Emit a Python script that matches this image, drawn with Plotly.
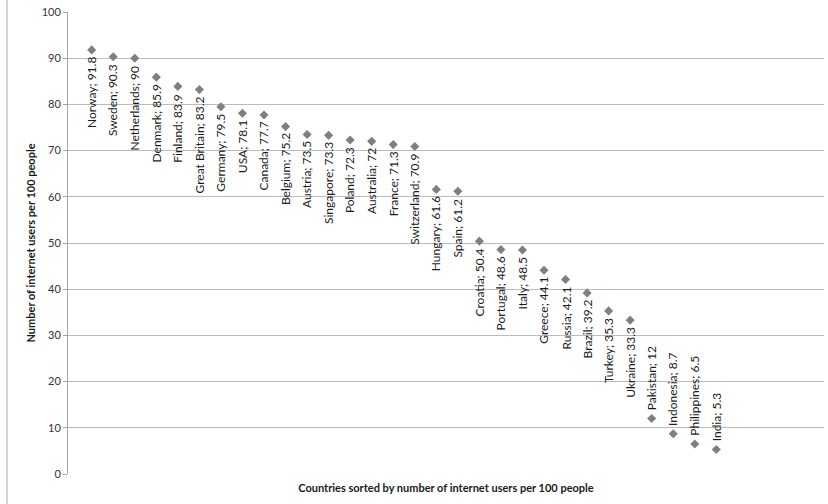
import plotly.graph_objects as go

countries = ["Norway", "Sweden", "Netherlands", "Denmark", "Finland", "Great Britain",
             "Germany", "USA", "Canada", "Belgium", "Austria", "Singapore", "Poland",
             "Australia", "France", "Switzerland", "Hungary", "Spain", "Croatia",
             "Portugal", "Italy", "Greece", "Russia", "Brazil", "Turkey", "Ukraine",
             "Pakistan", "Indonesia", "Philippines", "India"]
users_per_100 = [91.8, 90.3, 90, 85.9, 83.9, 83.2, 79.5, 78.1, 77.7, 75.2, 73.5, 73.3,
                 72.3, 72, 71.3, 70.9, 61.6, 61.2, 50.4, 48.6, 48.5, 44.1, 42.1, 39.2,
                 35.3, 33.3, 12, 8.7, 6.5, 5.3]
rank = list(range(1, len(countries) + 1))
label_side = ["below"] * 26 + ["above"] * 4

FONT = "Lato, 'Open Sans', sans-serif"

fig = go.Figure()
fig.add_trace(go.Scatter(
    x=rank, y=users_per_100, mode="markers",
    marker=dict(symbol="diamond", size=7, color="#7F7F7F", line=dict(width=0)),
    hoverinfo="skip", showlegend=False,
))

for xv, yv, name, side in zip(rank, users_per_100, countries, label_side):
    fmt = f"{yv:g}"
    fig.add_annotation(
        x=xv, y=yv, text=f"{name}; {fmt}", showarrow=False, textangle=-90,
        xanchor="center", yanchor="top" if side == "below" else "bottom",
        yshift=-5 if side == "below" else 6,
        font=dict(family=FONT, size=12, color="#1a1a1a"),
    )

fig.update_layout(
    template="none",
    width=828, height=504,
    margin=dict(l=68, r=4, t=12, b=30, autoexpand=False),
    paper_bgcolor="white", plot_bgcolor="white",
    font=dict(family=FONT, color="#404040"),
    xaxis=dict(range=[-0.1, 35], showticklabels=False, showgrid=False, zeroline=False,
               showline=False, ticks="", automargin=False,
               title=dict(text="<b>Countries sorted by number of internet users per 100 people</b>",
                          font=dict(size=11, color="#1a1a1a"), standoff=10)),
    yaxis=dict(range=[0, 100], tick0=0, dtick=10, showgrid=True, gridcolor="#BCBCBC", gridwidth=1,
               zeroline=False, showline=True, linecolor="#A6A6A6", linewidth=1,
               ticks="outside", ticklen=4, tickcolor="#A6A6A6", automargin=False,
               tickfont=dict(size=11, color="#333333"),
               title=dict(text="<b>Number of internet users per 100 people</b>",
                          font=dict(size=11, color="#1a1a1a"), standoff=3)),
    shapes=[dict(type="line", xref="paper", yref="paper",
                 x0=-0.0807, x1=-0.0807, y0=-0.07, y1=1.03,
                 line=dict(color="#A6A6A6", width=1))],
)

fig.write_html("out.html", config={"displayModeBar": False},
               post_script="document.body.style.margin='0px';")
